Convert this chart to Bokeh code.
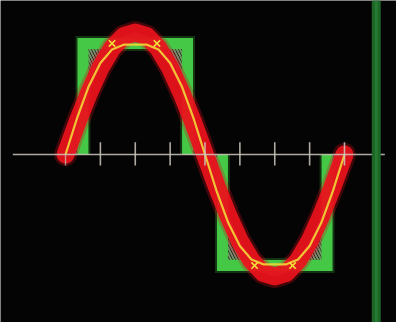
from bokeh.plotting import figure
from bokeh.models import Range1d, Span
from bokeh.embed import file_html
from bokeh.resources import INLINE

# ---- data (phase in degrees, amplitude relative to the sine peak) ----
phase = [0, 15, 30, 45, 60, 75, 90, 105, 120, 135, 150, 165, 180,
         195, 210, 225, 240, 255, 270, 285, 300, 315, 330, 345, 360]
fundamental = [0, 0.26, 0.5, 0.71, 0.87, 0.97, 1.0, 0.97, 0.87, 0.71, 0.5, 0.26, 0,
               -0.26, -0.5, -0.71, -0.87, -0.97, -1.0, -0.97, -0.87, -0.71, -0.5, -0.26, 0]
partial_sum = [0, 0.3, 0.56, 0.75, 0.86, 0.9, 0.9, 0.9, 0.86, 0.75, 0.56, 0.3, 0,
               -0.3, -0.56, -0.75, -0.86, -0.9, -0.9, -0.9, -0.86, -0.75, -0.56, -0.3, 0]

pulse_x = [[22.5, 22.5, 157.5, 157.5], [202.5, 202.5, 337.5, 337.5]]
pulse_y = [[0, 0.91, 0.91, 0], [0, -0.91, -0.91, 0]]

cross_x = [60, 118, 244, 293]
cross_y = [0.91, 0.91, -0.91, -0.91]

tick_deg = [45, 90, 135, 180, 225, 270, 315, 360]
first_tick = [0]
axis_extent = [-68, 412]
bar_deg = 401

p = figure(width=396, height=322,
           x_range=Range1d(-83.9, 427.1), y_range=Range1d(-1.377, 1.262),
           x_axis_type=None, y_axis_type=None,
           output_backend="svg", toolbar_location=None,
           background_fill_color="#040404", border_fill_color="#040404",
           outline_line_color=None, min_border=0)

# hatched difference areas between sine and pulses
half = len(phase) // 2
for k in range(2):
    xs = phase[k * half:(k + 1) * half + 1]
    ys = fundamental[k * half:(k + 1) * half + 1]
    px = list(reversed(pulse_x[k]))
    py = list(reversed(pulse_y[k]))
    p.patch(xs + px, ys + py, fill_color="#070707", line_color=None,
            hatch_pattern="\\", hatch_color="#7e8c6e", hatch_scale=6,
            hatch_weight=2)

# green pulses
p.multi_line(pulse_x, pulse_y, line_color="#3fbf3f", line_width=15,
             line_alpha=0.25, line_join="miter", line_cap="butt")
p.multi_line(pulse_x, pulse_y, line_color="#45c845", line_width=11,
             line_join="miter", line_cap="butt")

# red fundamental sine
p.line(phase, fundamental, line_color="#d0101a", line_width=23, line_alpha=0.3,
       line_join="round", line_cap="round")
p.line(phase, fundamental, line_color="#ea121c", line_width=18, line_alpha=0.93,
       line_join="round", line_cap="round")

# yellow partial sum
p.line(phase, partial_sum, line_color="#f3e23a", line_width=2.2, line_alpha=0.85,
       line_join="round")
p.scatter(cross_x, cross_y, marker="x", size=9, line_color="#f3e23a", line_width=1.6)

# horizontal axis line and ticks
p.line(axis_extent, [0, 0], line_color="#cfc8bd", line_width=1.6, line_alpha=0.85)
p.segment(x0=tick_deg, y0=[-0.09] * len(tick_deg), x1=tick_deg, y1=[0.1] * len(tick_deg),
          line_color="#cfc8bd", line_width=1.6, line_alpha=0.85)
p.segment(x0=first_tick, y0=[-0.09], x1=first_tick, y1=[0],
          line_color="#cfc8bd", line_width=1.4, line_alpha=0.7)

# right green bar
p.add_layout(Span(location=bar_deg, dimension="height", line_color="#1c6626", line_width=9))
p.add_layout(Span(location=bar_deg, dimension="height", line_color="#2e8238", line_width=3,
                  line_alpha=0.7))

open("out.html", "w").write(file_html(p, INLINE))
